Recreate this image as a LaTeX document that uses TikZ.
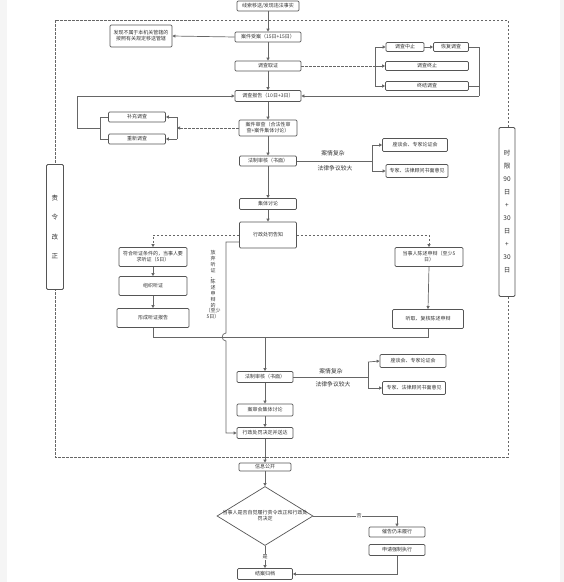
\documentclass[tikz,border=0pt]{standalone}
\usepackage{fontspec}
\setmainfont{Noto Sans CJK SC}
\usetikzlibrary{arrows.meta,shapes.geometric}
\definecolor{lc}{HTML}{666666}
\definecolor{bc}{HTML}{555555}
\definecolor{tc}{HTML}{333333}
\begin{document}
\begin{tikzpicture}[x=1pt,y=-1pt,
  box/.style={draw=bc, line width=0.7pt, rounded corners=1.2pt, fill=white, text=tc,
    font=\fontsize{5}{6}\selectfont, inner sep=0pt, align=center},
  ln/.style={draw=lc, line width=0.7pt},
  arr/.style={ln, -{Triangle[length=3pt,width=3pt]}},
  dsh/.style={ln, dash pattern=on 2.5pt off 1.5pt},
  lbl/.style={text=tc, font=\fontsize{5.8}{7}\selectfont, inner sep=0.5pt},
  vbox/.style={draw=bc, line width=0.8pt, rounded corners=1.2pt, fill=white, text=tc,
    inner sep=0pt, align=center}
]
\useasboundingbox (0,0) rectangle (564,582);
\fill[gray!8] (0,0) rectangle (7,582);
\fill[gray!8] (560,0) rectangle (564,582);

% dashed frame
\draw[dsh] (55,20) rectangle (508,457);

% nodes
\node[box, minimum width=62pt, minimum height=10pt] (top) at (268,6) {线索移送/发现违法事实};
\node[box, minimum width=66pt, minimum height=10pt] (shouan) at (268,37) {案件受案（15日+15日）};
\node[box, minimum width=62pt, minimum height=22pt] (yisong) at (141,36) {发现不属于本机关管辖的\\按照有关规定移送管辖};
\node[box, minimum width=66pt, minimum height=10pt] (diaocha) at (268,66) {调查取证};
\node[box, minimum width=38pt, minimum height=9pt] (zz1) at (405,47) {调查中止};
\node[box, minimum width=35pt, minimum height=9pt] (hf) at (451,47) {恢复调查};
\node[box, minimum width=83pt, minimum height=9pt] (zz2) at (427,66) {调查终止};
\node[box, minimum width=83pt, minimum height=9pt] (zj) at (427,86) {终结调查};
\node[box, minimum width=66pt, minimum height=11pt] (baogao) at (268,96) {调查报告（10日+3日）};
\node[box, minimum width=57pt, minimum height=10pt] (bc) at (137,117) {补充调查};
\node[box, minimum width=57pt, minimum height=10pt] (cx) at (137,139) {重新调查};
\node[box, minimum width=58pt, minimum height=16pt] (shencha) at (268,128) {案件审查（合法性审\\查+案件集体讨论）};
\node[box, minimum width=57pt, minimum height=10pt] (fz1) at (268,161) {法制审核（书面）};
\node[box, minimum width=65pt, minimum height=13pt] (zt1) at (415,145) {座谈会、专家论证会};
\node[box, minimum width=62pt, minimum height=13pt] (zj1) at (417,171) {专家、法律顾问书面意见};
\node[box, minimum width=57pt, minimum height=11pt] (jt) at (268,204) {集体讨论};
\node[box, minimum width=57pt, minimum height=26pt] (gz) at (268,235) {行政处罚告知};
\node[box, minimum width=68pt, minimum height=19pt] (tz) at (153,257) {符合听证条件的，当事人要\\求听证（5日）};
\node[box, minimum width=68pt, minimum height=19pt] (zz) at (153,286) {组织听证};
\node[box, minimum width=72pt, minimum height=19pt] (xc) at (153,318) {形成听证报告};
\node[box, minimum width=68pt, minimum height=19pt] (cs) at (429,257) {当事人陈述申辩（至少5\\日）};
\node[box, minimum width=71pt, minimum height=19pt] (tq) at (428,319) {听取、复核陈述申辩};
\node[box, minimum width=56pt, minimum height=11pt] (fz2) at (265,377) {法制审核（书面）};
\node[box, minimum width=56pt, minimum height=12pt] (ash) at (265,410) {案审会集体讨论};
\node[box, minimum width=56pt, minimum height=11pt] (jd) at (265,433) {行政处罚决定并送达};
\node[box, minimum width=66pt, minimum height=13pt] (zt2) at (413,361) {座谈会、专家论证会};
\node[box, minimum width=63pt, minimum height=13pt] (zj2) at (414,388) {专家、法律顾问书面意见};
\node[box, minimum width=52pt, minimum height=8pt] (gk) at (265,467) {信息公开};
\node[diamond, draw=bc, line width=0.7pt, fill=white, minimum width=96pt, minimum height=59pt, inner sep=0pt] (dia) at (265,516) {};
\node[text=tc, font=\fontsize{5}{6}\selectfont, align=center, inner sep=0pt] (diat) at (dia.center) {当事人是否自觉履行责令改正和行政处\\罚决定};
\node[box, minimum width=56pt, minimum height=10pt] (cg) at (397,532) {催告仍未履行};
\node[box, minimum width=56pt, minimum height=11pt] (sq) at (397,550) {申请强制执行};
\node[box, minimum width=55pt, minimum height=11pt] (ja) at (265,574) {结案归档};
\node[vbox, minimum width=17pt, minimum height=125pt, font=\fontsize{6.5}{19.5}\selectfont] (zl) at (55,227) {责\\令\\改\\正};
\node[vbox, minimum width=16pt, minimum height=169pt, font=\fontsize{6.5}{13}\selectfont] (sx) at (507,212) {时\\限\\90\\日\\+\\30\\日\\+\\30\\日};
\node[text=tc, font=\fontsize{5}{5.8}\selectfont, align=center, inner sep=0pt] (fq) at (213,285) {放\\弃\\听\\证\\、\\陈\\述\\申\\辩\\的\\（至少\\5日）};

% connectors: top part
\draw[arr] (top.south) -- (shouan.north);
\draw[arr] (shouan.west) -- (yisong.east);
\draw[arr] (shouan.south) -- (diaocha.north);
\draw[arr] (diaocha.south) -- (baogao.north);
\coordinate (b1) at (375,66);
\draw[dsh] (diaocha.east) -- (b1);
\draw[ln] (375,47) -- (375,86);
\draw[arr] (375,47) -- (zz1.west);
\draw[arr] (b1) -- (zz2.west);
\draw[arr] (375,86) -- (zj.west);
\draw[arr] (zz1.east) -- (hf.west);
\draw[ln] (hf.east) -- (479,47) -- (479,96);
\draw[ln] (zj.east) -- (479,86);
\draw[arr] (479,96) -- (baogao.east);

\draw[arr] (baogao.south) -- (shencha.north);
\coordinate (b2) at (177,128);
\draw[dsh, -{Triangle[length=3pt,width=3pt]}] (shencha.west) -- (b2);
\draw[ln] (177,117) -- (177,139);
\draw[arr] (177,117) -- (bc.east);
\draw[arr] (177,139) -- (cx.east);
\draw[ln] (bc.west) -- (100,117) -- (100,139) -- (cx.west);
\draw[arr] (100,128) -- (77,128) -- (77,96) -- (baogao.west);

\draw[arr] (shencha.south) -- (fz1.north);
\draw[ln] (fz1.east) -- (372,161);
\draw[ln] (372,145) -- (372,171);
\draw[arr] (372,145) -- (zt1.west);
\draw[arr] (372,171) -- (zj1.west);
\node[lbl] (l1) at (333,153) {案情复杂};
\node[lbl] (l2) at (335,168) {法律争议较大};

\draw[arr] (fz1.south) -- (jt.north);
\draw[arr] (jt.south) -- (gz.north);

% hearing branch
\draw[dsh, -{Triangle[length=3pt,width=3pt]}] (gz.west) -- (153,235) -- (tz.north);
\draw[arr] (tz.south) -- (zz.north);
\draw[arr] (zz.south) -- (xc.north);
\draw[dsh, -{Triangle[length=3pt,width=3pt]}] (gz.east) -- (429,235) -- (cs.north);
\draw[arr] (cs.south) -- (tq.north);
\draw[ln] (xc.south) -- (153,337) -- (428,337) -- (tq.south);
\draw[arr] (265,337) -- (fz2.north);
\draw[arr] ([yshift=-7pt]gz.west) -- (226,242) -- (226,333)
   .. controls (221,333) and (221,341) .. (226,341) -- (226,433) -- (jd.west);

% second review
\draw[ln] (fz2.east) -- (368,377);
\draw[ln] (368,362) -- (368,388);
\draw[arr] (368,362) -- (zt2.west);
\draw[arr] (368,388) -- (zj2.west);
\node[lbl] (l3) at (331,371) {案情复杂};
\node[lbl] (l4) at (333,384) {法律争议较大};
\draw[arr] (fz2.south) -- (ash.north);
\draw[arr] (ash.south) -- (jd.north);
\draw[arr] (jd.south) -- (gk.north);
\draw[arr] (gk.south) -- (dia.north);

% decision
\draw[arr] (dia.east) -- (397,516) -- (cg.north);
\node[lbl, fill=white, font=\fontsize{5}{6}\selectfont] (no) at (359,516) {否};
\draw[arr] (dia.south) -- (ja.north);
\node[lbl, fill=white, font=\fontsize{5}{6}\selectfont] (yes) at (265,557) {是};
\draw[arr] (sq.south) -- (397,574) -- (ja.east);
\end{tikzpicture}
\end{document}
